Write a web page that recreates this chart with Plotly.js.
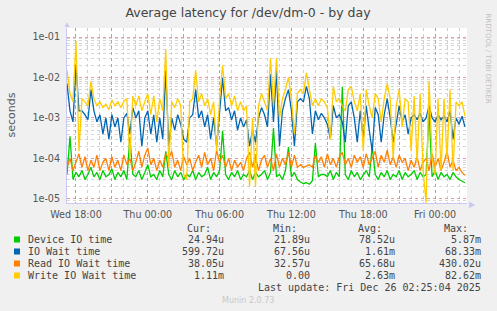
<!DOCTYPE html>
<html><head><meta charset="utf-8">
<script src="https://cdn.plot.ly/plotly-3.0.1.min.js"></script>
<style>html,body{margin:0;padding:0;background:#F0F0F0;}#chart{width:497px;height:311px;}</style>
</head><body><div id="chart"></div>
<script>
const seriesNames = ['Device IO time', 'IO Wait time', 'Read IO Wait time', 'Write IO Wait time'];
const seriesColors = ['#00CC00', '#0066B3', '#FF8000', '#FFCC00'];
const startTime = [2025, 11, 24, 17, 15]; // Wed Dec 24 2025 17:15
const stepMinutes = 15;

const deviceIO = [
 4e-5, 3.5e-4, 3e-5, 4.5e-5, 3.5e-5, 5e-5, 3e-5, 4e-5, 6e-5, 3.5e-5,
 4.5e-5, 3e-5, 5e-5, 3.5e-5, 4e-5, 5.5e-5, 3e-5, 4.5e-5, 3.5e-5, 5e-5,
 3e-5, 3.3e-4, 4e-5, 3.5e-5, 5e-5, 3e-5, 4.5e-5, 7e-5, 3.5e-5, 4e-5,
 3e-5, 5e-5, 3.5e-5, 1.5e-4, 4e-5, 3e-5, 5e-5, 3.5e-5, 4.5e-5, 3e-5,
 4e-5, 3.5e-5, 5e-5, 3e-5, 4.5e-5, 3.5e-5, 4e-5, 6e-5, 3e-5, 4.5e-5,
 3.5e-5, 5e-5, 4.8e-4, 4e-5, 3e-5, 4.5e-5, 3.5e-5, 5e-5, 3e-5, 4e-5,
 3.5e-5, 5e-5, 3e-5, 4.5e-5, 3.5e-5, 4e-5, 5e-5, 3e-5, 4.5e-5, 5.6e-4,
 3.5e-5, 4e-5, 3e-5, 5e-5, 1.9e-4, 3.5e-5, 4.5e-5, 3e-5, 2.6e-5, 2.4e-5,
 2.5e-5, 2.3e-5, 2.8e-5, 2.4e-4, 3.5e-5, 4e-5, 4e-5, 3.5e-5, 5e-5, 3e-5,
 4.5e-5, 3.5e-5, 5.87e-3, 4e-5, 3e-5, 5e-5, 3.5e-5, 4.5e-5, 3e-5, 4e-5,
 5e-5, 3.5e-5, 2e-4, 4e-5, 3e-5, 4.5e-5, 3.5e-5, 5e-5, 3e-5, 4e-5,
 3.5e-5, 5e-5, 3e-5, 4.5e-5, 3.5e-5, 4e-5, 5e-5, 3e-5, 4.5e-5, 3.5e-5,
 4e-5, 1.5e-3, 3.5e-5, 5e-5, 3e-5, 4.5e-5, 3.5e-5, 4e-5, 3e-5, 4.5e-5,
 3.5e-5, 3e-5, 2.8e-5, 2.5e-5
];
const ioWait = [
 7e-3, 1.5e-3, 8e-4, 2e-2, 1.5e-3, 1.5e-3, 1.2e-3, 9e-4, 5e-3, 1.5e-3,
 8e-4, 1.2e-3, 4e-4, 1e-3, 3e-4, 1.2e-3, 6e-4, 1e-3, 2.5e-4, 1e-3,
 1.3e-3, 4e-4, 1.8e-3, 1e-3, 1.5e-3, 2e-4, 1e-3, 1.5e-3, 4e-4, 1.2e-3,
 2.5e-4, 1e-3, 3e-4, 1.5e-2, 2e-4, 1e-3, 5e-4, 1.2e-3, 7e-4, 3e-4,
 2.5e-4, 1e-3, 1.2e-3, 5e-3, 1e-3, 1.5e-3, 6e-4, 1.2e-3, 3e-4, 1e-3,
 2e-4, 1.2e-3, 1e-2, 1.5e-3, 1.8e-3, 9e-4, 1.5e-3, 5e-4, 1e-3, 6e-4,
 9e-4, 2e-4, 5e-4, 2.5e-4, 1e-3, 1.8e-3, 1.2e-3, 6e-4, 1.2e-2, 8e-4,
 1.5e-2, 2e-4, 1.5e-3, 3e-3, 5e-3, 1.5e-3, 2e-4, 2.5e-3, 3e-3, 2.5e-3,
 6e-3, 3e-3, 4e-4, 1.5e-3, 9e-4, 1.3e-3, 1e-3, 7e-4, 3e-4, 2e-3,
 1e-3, 1.2e-3, 8e-4, 2.5e-4, 2e-3, 2.5e-3, 1e-3, 2.5e-4, 1.5e-3, 3e-4,
 2e-3, 5e-4, 1.5e-4, 1.8e-3, 1.2e-3, 2.5e-4, 1.2e-3, 3e-3, 1e-3, 2.5e-4,
 8e-4, 2e-3, 8e-4, 1.2e-3, 4e-4, 1e-3, 1.2e-3, 9e-4, 1.3e-3, 8e-4,
 1e-3, 2e-3, 1e-3, 8e-4, 1.2e-3, 9e-4, 1.1e-3, 8e-4, 1.5e-3, 3e-4,
 1e-3, 7e-4, 1.1e-3, 6e-4
];
const readWait = [
 6e-5, 1e-4, 5e-5, 8e-5, 1.3e-4, 6e-5, 1.1e-4, 5e-5, 9e-5, 6e-5,
 1.2e-4, 5e-5, 8e-5, 1e-4, 5e-5, 1.1e-4, 6e-5, 9e-5, 5e-5, 1.2e-4,
 7e-5, 1e-4, 5e-5, 8e-5, 1.5e-4, 6e-5, 1.2e-4, 1.8e-4, 7e-5, 1e-4,
 5e-5, 9e-5, 6e-5, 1.3e-4, 1e-4, 1.5e-4, 6e-5, 9e-5, 5e-5, 1.1e-4,
 7e-5, 1e-4, 5e-5, 8e-5, 1.2e-4, 6e-5, 1.4e-4, 7e-5, 1e-4, 5e-5,
 1.6e-4, 8e-5, 1.2e-4, 6e-5, 1e-4, 5e-5, 9e-5, 6e-5, 8e-5, 5e-5,
 1e-4, 1.4e-4, 6e-5, 1.1e-4, 5e-5, 9e-5, 1.2e-4, 6e-5, 1e-4, 5e-5,
 1.3e-4, 6e-5, 1e-4, 7e-5, 1.4e-4, 6e-5, 1.2e-4, 6e-5, 7e-5, 6e-5,
 6.5e-5, 7e-5, 6e-5, 1.2e-4, 8e-5, 1.1e-4, 6e-5, 1.3e-4, 7e-5, 1e-4,
 6e-5, 1.1e-4, 1.4e-4, 7e-5, 1e-4, 6e-5, 1.2e-4, 8e-5, 1.1e-4, 6e-5,
 1.3e-4, 7e-5, 1e-4, 1.5e-4, 6e-5, 1.2e-4, 8e-5, 1.6e-4, 7e-5, 1.1e-4,
 6e-5, 1.2e-4, 8e-5, 1e-4, 5e-5, 9e-5, 6e-5, 1.1e-4, 5e-5, 8e-5,
 1e-4, 5e-5, 1.3e-4, 6e-5, 1e-4, 5e-5, 8e-5, 1.5e-4, 6e-5, 9e-5,
 5e-5, 6e-5, 4.5e-5, 3.8e-5
];
const writeWait = [
 1.5e-2, 4e-3, 2.5e-3, 8e-2, 1.5e-4, 3e-3, 2.5e-3, 2e-3, 8e-3, 3e-3,
 2e-3, 2.5e-3, 1.8e-3, 2.2e-3, 1.6e-3, 2.8e-3, 2e-3, 2.5e-3, 1.8e-3, 2.6e-3,
 3e-3, 1e-4, 3.5e-3, 2e-3, 3.5e-3, 1.5e-3, 2.5e-3, 4e-3, 1.2e-3, 3.5e-3,
 8e-4, 3e-3, 1.5e-3, 5e-2, 6e-5, 2.5e-3, 1.8e-3, 3e-3, 2e-3, 4e-5,
 3e-5, 2.5e-3, 3e-3, 1.5e-2, 2.5e-3, 4e-3, 2e-3, 3e-3, 1.2e-3, 2.5e-3,
 1.5e-4, 3e-3, 2e-2, 3e-3, 4e-3, 2e-3, 3.5e-3, 1.5e-3, 2.5e-3, 1.5e-3,
 2e-3, 2e-5, 1e-3, 2e-5, 2e-3, 4e-3, 2.5e-3, 1.5e-3, 3e-2, 2e-3,
 3e-2, 1e-3, 3e-3, 5e-3, 1e-2, 3e-3, 4e-4, 4e-3, 5e-3, 4e-3,
 1.3e-2, 5e-3, 2e-3, 3e-3, 2e-3, 3e-3, 2.5e-3, 1.8e-3, 3e-4, 6e-3,
 2.5e-3, 3e-3, 2e-3, 1.5e-3, 5e-3, 6e-3, 2.5e-3, 1.5e-3, 4e-3, 1.5e-4,
 5e-3, 2e-3, 1e-3, 4e-3, 3e-3, 8e-4, 3e-3, 7e-3, 3e-3, 1e-4,
 2e-3, 5e-3, 6e-4, 3e-3, 2.5e-3, 1.5e-4, 3.5e-3, 8e-5, 4e-3, 5e-5,
 8e-6, 8e-3, 1e-4, 4e-5, 3e-3, 5e-5, 3e-3, 1e-4, 5e-3, 5e-5,
 2.5e-3, 2e-3, 2.5e-3, 1.11e-3
];

const curVals = ['24.94u', '599.72u', '38.05u', '1.11m'];
const minVals = ['21.89u', '67.56u', '32.57u', '0.00'];
const avgVals = ['78.52u', '1.61m', '65.68u', '2.63m'];
const maxVals = ['5.87m', '68.33m', '430.02u', '82.62m'];

const yTickVals = [1e-5, 1e-4, 1e-3, 1e-2, 1e-1];
const yTickText = ['1e-05', '1e-04', '1e-03', '1e-02', '1e-01'];
const xTickVals = ['2025-12-24 18:00', '2025-12-24 21:00', '2025-12-25 00:00', '2025-12-25 03:00',
  '2025-12-25 06:00', '2025-12-25 09:00', '2025-12-25 12:00', '2025-12-25 15:00',
  '2025-12-25 18:00', '2025-12-25 21:00', '2025-12-26 00:00'];
const xTickText = ['Wed 18:00', '', 'Thu 00:00', '', 'Thu 06:00', '', 'Thu 12:00', '', 'Thu 18:00', '', 'Fri 00:00'];

function pad(n) { return (n < 10 ? '0' : '') + n; }
const t0 = Date.UTC(startTime[0], startTime[1], startTime[2], startTime[3], startTime[4]);
const times = writeWait.map((_, i) => {
  const d = new Date(t0 + i * stepMinutes * 60000);
  return d.getUTCFullYear() + '-' + pad(d.getUTCMonth() + 1) + '-' + pad(d.getUTCDate()) + ' ' +
    pad(d.getUTCHours()) + ':' + pad(d.getUTCMinutes());
});

const allSeries = [deviceIO, ioWait, readWait, writeWait];
const traces = allSeries.map((vals, k) => ({
  x: times, y: vals, type: 'scatter', mode: 'lines', name: seriesNames[k],
  line: { color: seriesColors[k], width: 1.3 }, hoverinfo: 'skip'
}));

// layout geometry (pixels)
const W = 497, H = 311, L = 67, R = 467, T = 28, B = 203;
const pw = R - L, ph = B - T;
const px = x => (x - L) / pw;
const py = y => (B - y) / ph;

const mono = 'DejaVu Sans Mono, monospace';
const textCol = '#444';
const annotations = [];
const shapes = [];
const headers = [['Cur:', 213], ['Min:', 299], ['Avg:', 384], ['Max:', 470]];
headers.forEach(h => annotations.push({ xref: 'paper', yref: 'paper', x: px(h[1]), y: py(228), text: h[0],
  showarrow: false, xanchor: 'right', yanchor: 'middle', font: { family: mono, size: 10, color: textCol } }));
const rowY = [239.5, 251.5, 263.5, 275.5];
const cols = [[curVals, 226], [minVals, 312], [avgVals, 397], [maxVals, 483]];
seriesNames.forEach((nm, k) => {
  annotations.push({ xref: 'paper', yref: 'paper', x: px(26), y: py(rowY[k]), text: nm, showarrow: false,
    xanchor: 'left', yanchor: 'middle', font: { family: mono, size: 10, color: textCol } });
  cols.forEach(c => annotations.push({ xref: 'paper', yref: 'paper', x: px(c[1]), y: py(rowY[k]), text: c[0][k],
    showarrow: false, xanchor: 'right', yanchor: 'middle', font: { family: mono, size: 10, color: textCol } }));
  shapes.push({ type: 'rect', xref: 'paper', yref: 'paper', x0: px(14), x1: px(20), y0: py(rowY[k] + 3), y1: py(rowY[k] - 3),
    fillcolor: seriesColors[k], line: { width: 0 } });
});
annotations.push({ xref: 'paper', yref: 'paper', x: px(483), y: py(287.5), text: 'Last update: Fri Dec 26 02:25:04 2025',
  showarrow: false, xanchor: 'right', yanchor: 'middle', font: { family: mono, size: 10, color: textCol } });
annotations.push({ xref: 'paper', yref: 'paper', x: px(248), y: py(300.5), text: 'Munin 2.0.73',
  showarrow: false, xanchor: 'center', yanchor: 'middle', font: { family: 'DejaVu Sans, sans-serif', size: 8, color: '#c8c8c8' } });
annotations.push({ xref: 'paper', yref: 'paper', x: px(487.5), y: py(58), text: 'RRDTOOL / TOBI OETIKER', textangle: 90,
  showarrow: false, xanchor: 'center', yanchor: 'middle', font: { family: 'DejaVu Sans, sans-serif', size: 7, color: '#c0c0c0' } });
annotations.push({ xref: 'paper', yref: 'paper', x: px(10.5), y: py(115), text: 'seconds', textangle: -90,
  showarrow: false, xanchor: 'center', yanchor: 'middle', font: { family: 'DejaVu Sans, sans-serif', size: 11, color: '#555' } });
// axis arrows
annotations.push({ xref: 'paper', yref: 'paper', x: px(67), y: py(23), text: '▲', showarrow: false,
  xanchor: 'center', yanchor: 'middle', font: { size: 8, color: '#c8c8f0' } });
annotations.push({ xref: 'paper', yref: 'paper', x: px(472), y: py(203), text: '▶', showarrow: false,
  xanchor: 'center', yanchor: 'middle', font: { size: 8, color: '#c8c8f0' } });

const decadeMinor = [];
[-6, -5, -4, -3, -2, -1].forEach(e => { for (let m = 2; m <= 9; m++) decadeMinor.push(m * Math.pow(10, e)); });

const layout = {
  width: W, height: H,
  paper_bgcolor: '#F0F0F0', plot_bgcolor: '#FFFFFF',
  margin: { l: L, r: W - R, t: T, b: H - B, pad: 0 },
  showlegend: false,
  title: { text: 'Average latency for /dev/dm-0 - by day', xref: 'paper', x: px(248), xanchor: 'center',
    yref: 'container', y: 1 - 13 / H, yanchor: 'middle', font: { family: 'DejaVu Sans, sans-serif', size: 12.5, color: '#444' } },
  xaxis: {
    type: 'date', range: ['2025-12-24 17:15', '2025-12-26 02:40'],
    tickmode: 'array', tickvals: xTickVals, ticktext: xTickText,
    showgrid: true, gridcolor: 'rgba(230,120,120,0.75)', griddash: 'dot', gridwidth: 1,
    minor: { tickmode: 'linear', tick0: '2025-12-24 18:00', dtick: 3600000, showgrid: true,
      gridcolor: '#cfcfcf', griddash: 'dot', gridwidth: 1, ticks: '' },
    ticks: '', showline: true, linecolor: '#c8c8f0', linewidth: 1, zeroline: false,
    tickfont: { family: 'DejaVu Sans, sans-serif', size: 9.6, color: '#555' }, ticklabelstandoff: 2
  },
  yaxis: {
    type: 'log', range: [Math.log10(7.9e-6), Math.log10(0.167)],
    tickmode: 'array', tickvals: yTickVals, ticktext: yTickText,
    showgrid: true, gridcolor: 'rgba(230,120,120,0.75)', griddash: 'dot', gridwidth: 1,
    minor: { tickmode: 'array', tickvals: decadeMinor, showgrid: true, gridcolor: '#d6d6d6', griddash: 'dot', gridwidth: 1, ticks: '' },
    ticks: '', showline: true, linecolor: '#c8c8f0', linewidth: 1, zeroline: false,
    tickfont: { family: 'DejaVu Sans, sans-serif', size: 9.6, color: '#555' }, ticklabelstandoff: 4
  },
  annotations: annotations,
  shapes: shapes
};

Plotly.newPlot('chart', traces, layout, { staticPlot: true, displayModeBar: false });
</script>
</body></html>
